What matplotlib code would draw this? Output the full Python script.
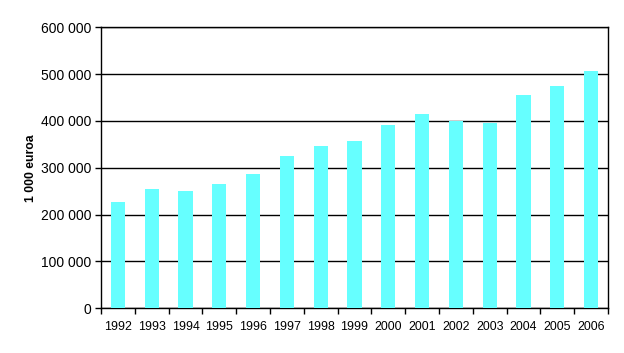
from matplotlib import pyplot as plt
import numpy as np

plt.rcParams['font.family'] = ['Liberation Sans', 'DejaVu Sans']

years = ['1992', '1993', '1994', '1995', '1996', '1997', '1998', '1999',
         '2000', '2001', '2002', '2003', '2004', '2005', '2006']
values = [227600, 254700, 250500, 265400, 286800, 325200, 346600, 357200,
          391400, 414900, 399900, 395700, 455400, 474700, 506700]

fig = plt.figure(figsize=(6.24, 3.53), dpi=100)
ax = fig.add_axes([101/624, 1 - 308.3/353, 507/624, 281/353])

x = np.arange(len(years))
ax.bar(x, values, width=0.42, color='#66FFFF', zorder=3)

ax.set_xlim(-0.5, len(years) - 0.5)
ax.set_ylim(0, 600000)
ax.set_yticks(range(0, 600001, 100000))
ax.set_yticklabels(['0' if v == 0 else '{:,}'.format(v).replace(',', ' ') for v in range(0, 600001, 100000)],
                   fontsize=10)
ax.yaxis.grid(True, color='black', linewidth=1.0, zorder=1)

ax.set_xticks(x)
ax.set_xticklabels(years, fontsize=8.9)
ax.set_xticks(np.arange(-0.5, len(years), 1), minor=True)
ax.tick_params(axis='x', which='major', length=0, pad=9)
ax.tick_params(axis='x', which='minor', length=4, width=1, direction='out')
ax.tick_params(axis='y', length=4, width=1, direction='out', pad=3)

for s in ax.spines.values():
    s.set_color('black')
    s.set_linewidth(1.0)

ax.set_ylabel('1 000 euroa', fontsize=8.8, fontweight='bold', labelpad=3)

fig.savefig('out.png', dpi=100)
